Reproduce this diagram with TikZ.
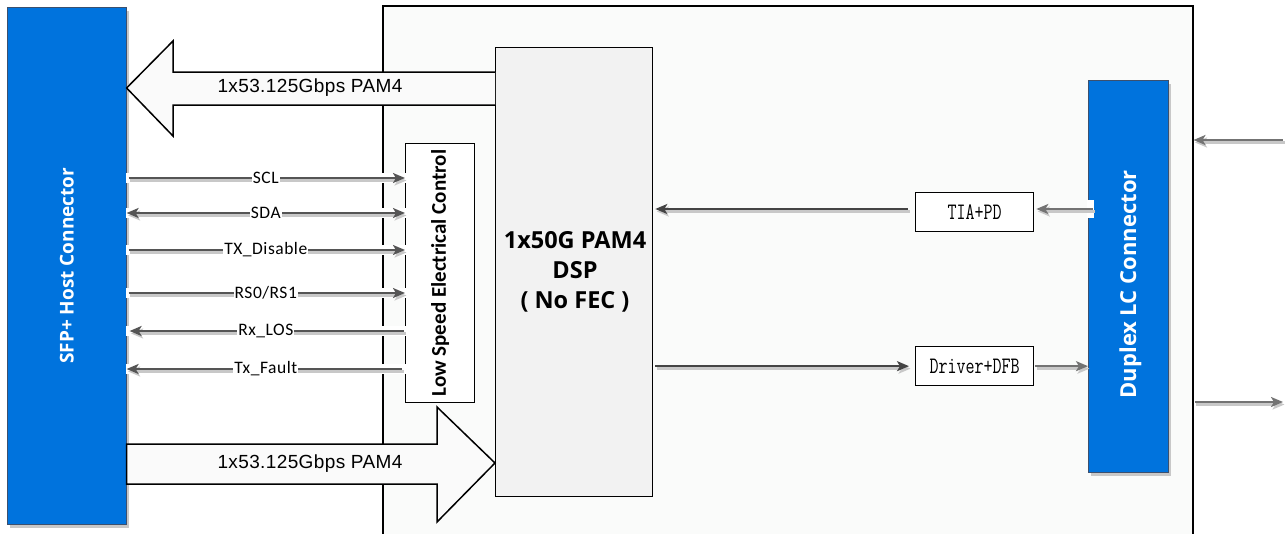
\documentclass[tikz,border=0pt]{standalone}
\usepackage{fontspec}
\setmainfont{Liberation Sans}
\newfontfamily\calfont[LetterSpace=3]{Carlito}
\newfontfamily\calbold{Carlito}
\newfontfamily\osfont{Open Sans}
\newfontfamily\arialls[LetterSpace=2]{Liberation Sans}
\usetikzlibrary{arrows.meta}
\definecolor{conblue}{RGB}{0,115,221}
\definecolor{conedge}{RGB}{60,80,110}
\definecolor{shadowgray}{RGB}{200,200,200}
\definecolor{modfill}{RGB}{250,251,250}
\definecolor{dspfill}{RGB}{242,242,242}
\definecolor{bigfill}{RGB}{250,250,250}
\definecolor{sigcol}{RGB}{85,85,85}
\definecolor{sigdark}{RGB}{68,68,68}
\definecolor{siglight}{RGB}{115,115,115}
\begin{document}
\begin{tikzpicture}[x=1pt,y=-1pt,
  >={Stealth[length=12pt,width=10pt,inset=3pt]},
  conbox/.style={draw=conedge, line width=0.6pt, fill=conblue, inner sep=0pt, anchor=north west,
    preaction={fill=shadowgray, transform canvas={shift={(3pt,-4pt)}}}},
  plainbox/.style={draw=black, line width=1.3pt, inner sep=0pt, anchor=north west},
  sig/.style={draw=sigcol, line width=2.2pt,
    preaction={draw=shadowgray, line width=2.4pt, transform canvas={shift={(1.5pt,-2.5pt)}}}},
  sigd/.style={sig, draw=sigdark},
  sigl/.style={sig, draw=siglight},
  lbl/.style={fill=white, inner sep=1pt, text=black, font=\calfont\fontsize{17.5}{20}\selectfont},
  bigarrow/.style={draw=black, fill=bigfill, line width=1.5pt, line join=miter},
  biglbl/.style={font=\arialls\fontsize{19}{22}\selectfont},
  vtext/.style={rotate=90, text=white, font=\osfont\bfseries\fontsize{19}{22}\selectfont},
  monobox/.style={plainbox, fill=white, minimum width=118pt, minimum height=39pt,
    font=\ttfamily\fontsize{17.5}{20}\selectfont}
]
\useasboundingbox (0,0) rectangle (1285,533);
% module outline
\node[plainbox, fill=modfill, line width=1.5pt, minimum width=810pt, minimum height=545pt] (mod) at (382,5) {};
% connectors
\node[conbox, minimum width=119pt, minimum height=517pt] (sfp) at (7,7) {};
\node[conbox, minimum width=80pt, minimum height=392pt] (lc) at (1088,80) {};
% blocks
\node[plainbox, fill=dspfill, minimum width=157pt, minimum height=449pt] (dsp) at (495,47) {};
\node[plainbox, fill=white, minimum width=69pt, minimum height=259pt] (lsec) at (405,143) {};
\node[monobox] (tia) at (915,192) {\scalebox{1}[1.35]{TIA+PD}};
\node[monobox] (drv) at (915,346) {\scalebox{1}[1.35]{Driver+DFB}};
% texts in blocks
\node[vtext] at (sfp.center) {SFP+ Host Connector};
\node[vtext, font=\osfont\bfseries\fontsize{22}{24}\selectfont] at ([yshift=-8pt, xshift=2pt]lc.center) {Duplex LC Connector};
\node[rotate=90, font=\calbold\bfseries\fontsize{21}{24}\selectfont] at (lsec.center) {Low Speed Electrical Control};
\node[align=center, font=\osfont\bfseries\fontsize{23.5}{30}\selectfont] at (575,272) {1x50G PAM4\\DSP\\( No FEC )};
% white halos of the signal lines
\foreach \yy in {178,213,250,293,331,369}
  \fill[white] (126,\yy-5) rectangle (412,\yy+5);
\fill[white] (1087,200) rectangle (1094,218);
% low speed signals
\draw[sig, ->, shorten <=2pt] (sfp.east |- 0,178) -- (lsec.west |- 0,178) node[lbl, midway] {SCL};
\draw[sig, <->] (sfp.east |- 0,213) -- (lsec.west |- 0,213) node[lbl, midway] {SDA};
\draw[sig, ->, shorten <=2pt] (sfp.east |- 0,250) -- (lsec.west |- 0,250) node[lbl, midway] {TX\_Disable};
\draw[sig, ->, shorten <=2pt] (sfp.east |- 0,293) -- (lsec.west |- 0,293) node[lbl, midway] {RS0/RS1};
\draw[sig, ->, shorten <=1pt, shorten >=3pt] (lsec.west |- 0,331) -- (sfp.east |- 0,331) node[lbl, midway] {Rx\_LOS};
\draw[sig, ->, shorten <=3pt] (lsec.west |- 0,369) -- (sfp.east |- 0,369) node[lbl, midway] {Tx\_Fault};
% high speed lanes
\draw[bigarrow] (dsp.west |- 0,72) -- (173,72) -- (173,41) -- (sfp.east |- 0,88) -- (173,136) -- (173,105) -- (dsp.west |- 0,105);
\node[biglbl] at (310,88) {1x53.125Gbps PAM4};
\draw[bigarrow] (sfp.east |- 0,444) -- (437,444) -- (437,407) -- (dsp.west |- 0,463) -- (437,522) -- (437,484) -- (sfp.east |- 0,484) -- cycle;
\node[biglbl] at (310,464) {1x53.125Gbps PAM4};
% optical side
\draw[sigd, ->, shorten <=7pt, shorten >=2pt] (tia.west |- 0,209) -- (dsp.east |- 0,209);
\draw[sigl, ->, shorten >=2pt] (lc.west |- 0,209) ++(5,0) -- (tia.east |- 0,209);
\draw[sigd, ->, shorten <=2pt, shorten >=6pt] (dsp.east |- drv.west) -- (drv.west);
\draw[sigl, ->, shorten <=1pt] (drv.east) -- (lc.west |- drv.east);
\coordinate (extin) at (1283,140);
\coordinate (extout) at (1283,402);
\draw[sigl, ->] (extin) -- (mod.east |- extin);
\draw[sigl, ->, shorten <=1pt] (mod.east |- extout) -- (extout);
\end{tikzpicture}
\end{document}
